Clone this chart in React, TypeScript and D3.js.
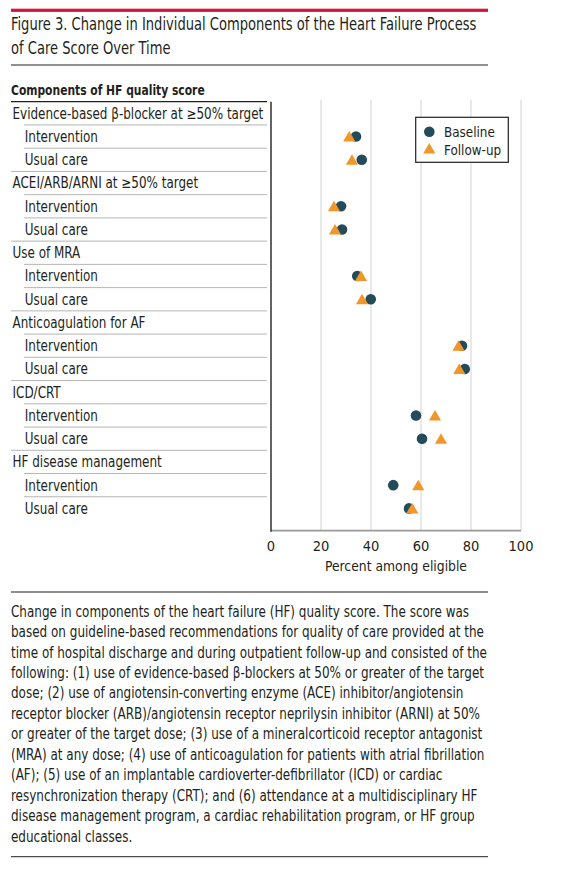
import React, { useLayoutEffect, useRef, useState } from "react";
import * as d3 from "d3";

const categories = [
  "Evidence-based β-blocker at ≥50% target",
  "ACEI/ARB/ARNI at ≥50% target",
  "Use of MRA",
  "Anticoagulation for AF",
  "ICD/CRT",
  "HF disease management",
];
const groups = ["Intervention", "Usual care"];
// [category][group]
const baseline = [
  [34, 36.3],
  [28, 28.4],
  [34.5, 39.9],
  [76.4, 77.5],
  [58, 60.4],
  [48.9, 55.2],
];
const followUp = [
  [31.3, 32.4],
  [25.2, 25.6],
  [36, 36.4],
  [75, 75.3],
  [65.6, 68],
  [58.9, 56.5],
];
const xTicks = [0, 20, 40, 60, 80, 100];
const seriesNames = ["Baseline", "Follow-up"];
const headerText = "Components of HF quality score";
const axisTitle = "Percent among eligible";
const titleLines = [
  "Figure 3. Change in Individual Components of the Heart Failure Process",
  "of Care Score Over Time",
];
const captionLines = [
  "Change in components of the heart failure (HF) quality score. The score was",
  "based on guideline-based recommendations for quality of care provided at the",
  "time of hospital discharge and during outpatient follow-up and consisted of the",
  "following: (1) use of evidence-based β-blockers at 50% or greater of the target",
  "dose; (2) use of angiotensin-converting enzyme (ACE) inhibitor/angiotensin",
  "receptor blocker (ARB)/angiotensin receptor neprilysin inhibitor (ARNI) at 50%",
  "or greater of the target dose; (3) use of a mineralcorticoid receptor antagonist",
  "(MRA) at any dose; (4) use of anticoagulation for patients with atrial fibrillation",
  "(AF); (5) use of an implantable cardioverter-defibrillator (ICD) or cardiac",
  "resynchronization therapy (CRT); and (6) attendance at a multidisciplinary HF",
  "disease management program, a cardiac rehabilitation program, or HF group",
  "educational classes.",
];

const FONT = "'Liberation Sans Narrow', 'DejaVu Sans Condensed', 'Roboto Condensed', sans-serif";
const TEXT = "#231f20";
const BASE_C = "#244b5a";
const FOLLOW_C = "#f0962a";

type Row = { label: string; kind: "cat" | "sub"; c: number; g: number };

function sq(x0: number, s: number) {
  return `translate(${x0},0) scale(${s},1) translate(${-x0},0)`;
}

export default function App() {
  const W = 571, H = 872;
  const left = 11, right = 488;
  const x = d3.scaleLinear().domain([0, 100]).range([271, 521]);

  const titleRef = useRef<SVGTextElement>(null);
  const capRef = useRef<SVGTextElement>(null);
  const labRef = useRef<SVGTextElement>(null);
  const hdrRef = useRef<SVGTextElement>(null);
  const [s, setS] = useState({ title: 1, cap: 1, lab: 1, hdr: 1 });

  useLayoutEffect(() => {
    const m = (r: React.RefObject<SVGTextElement>, target: number) =>
      r.current ? target / r.current.getComputedTextLength() : 1;
    setS({
      title: m(titleRef, 466),
      cap: m(capRef, 473.3),
      lab: m(labRef, 251),
      hdr: m(hdrRef, 194),
    });
  }, []);

  const rows: Row[] = [];
  categories.forEach((cat, c) => {
    rows.push({ label: cat, kind: "cat", c, g: -1 });
    groups.forEach((gname, g) => rows.push({ label: gname, kind: "sub", c, g }));
  });
  const tableTop = 101.7;
  const y = d3
    .scaleBand<number>()
    .domain(d3.range(rows.length))
    .range([tableTop, tableTop + 23.24 * rows.length]);
  const axisY = 530.7;

  const tri = d3.symbol().type(d3.symbolTriangle).size(64)()!;
  const circ = d3.symbol().type(d3.symbolCircle).size(88)()!;

  return (
    <svg width={W} height={H} style={{ position: "absolute", left: 0, top: 0, background: "#fff" }} fontFamily={FONT}>
      <rect x={0} y={0} width={W} height={H} fill="#fff" />
      {/* top red bar */}
      <rect x={left} y={8.7} width={right - left} height={3.2} fill="#d2163b" />
      <g transform={sq(left, s.title)}>
        {titleLines.map((t, i) => (
          <text key={i} ref={i === 0 ? titleRef : undefined} x={left} y={30 + i * 24.5} fontSize={17.5} fill={TEXT}>
            {t}
          </text>
        ))}
      </g>
      <line x1={left} x2={right} y1={65} y2={65} stroke={TEXT} strokeWidth={1} />

      {/* table header */}
      <g transform={sq(left, s.hdr)}>
        <text ref={hdrRef} x={left} y={95} fontSize={14.5} fontWeight="bold" fill={TEXT}>
          {headerText}
        </text>
      </g>

      {/* gridlines */}
      {xTicks
        .filter((t) => t > 0)
        .map((t) => (
          <line key={t} x1={x(t)} x2={x(t)} y1={tableTop - 2} y2={axisY} stroke="#d3d3d3" strokeWidth={1} />
        ))}

      {/* row separators */}
      {rows.map((r, i) => {
        const yb = y(i)! + y.bandwidth();
        if (i === rows.length - 1) return null;
        const next = rows[i + 1];
        const x1 = next.kind === "cat" ? left : 24;
        return <line key={"s" + i} x1={x1} x2={267} y1={yb} y2={yb} stroke="#b5b5b5" strokeWidth={1} />;
      })}
      <line x1={left} x2={267} y1={tableTop} y2={tableTop} stroke={TEXT} strokeWidth={1.2} />

      {/* row labels */}
      <g transform={sq(left, s.lab)}>
        {rows.map((r, i) => (
          <text
            key={"l" + i}
            ref={i === 0 ? labRef : undefined}
            x={r.kind === "cat" ? 12.7 : 12.7 + 12.3 / s.lab}
            y={y(i)! + y.bandwidth() / 2}
            dy="0.36em"
            fontSize={15}
            fill={TEXT}
          >
            {r.label}
          </text>
        ))}
      </g>

      {/* axes */}
      <line x1={x(0)} x2={x(100)} y1={axisY} y2={axisY} stroke="#9a9a9a" strokeWidth={1.8} />
      <line x1={x(0)} x2={x(0)} y1={tableTop} y2={axisY + 1} stroke={TEXT} strokeWidth={1.4} />
      {xTicks.map((t) => (
        <text key={"t" + t} x={x(t)} y={551} textAnchor="middle" fontSize={14.5} fill={TEXT}>
          {t}
        </text>
      ))}
      <g transform={sq(396, 0.95)}>
        <text x={(x(0) + x(100)) / 2} y={570.7} textAnchor="middle" fontSize={14.5} fill={TEXT}>
          {axisTitle}
        </text>
      </g>

      {/* points */}
      {rows.map((r, i) => {
        if (r.kind !== "sub") return null;
        const cy = y(i)! + y.bandwidth() / 2;
        return (
          <g key={"p" + i}>
            <path d={circ} transform={`translate(${x(baseline[r.c][r.g])},${cy})`} fill={BASE_C} />
            <path d={tri} transform={`translate(${x(followUp[r.c][r.g])},${cy + 1.5})`} fill={FOLLOW_C} />
          </g>
        );
      })}

      {/* legend */}
      <rect x={415.7} y={117.3} width={92.6} height={45} fill="#fff" stroke={TEXT} strokeWidth={1.2} />
      <path d={circ} transform={`translate(429.3,131.7)`} fill={BASE_C} />
      <path d={tri} transform={`translate(429.3,150)`} fill={FOLLOW_C} />
      <g transform={sq(444, 0.92)}>
        {seriesNames.map((n, i) => (
          <text key={n} x={444} y={131.7 + i * 17.6} dy="0.36em" fontSize={14.5} fill={TEXT}>
            {n}
          </text>
        ))}
      </g>

      {/* caption */}
      <line x1={left} x2={right} y1={592} y2={592} stroke={TEXT} strokeWidth={1} />
      <g transform={sq(left, s.cap)}>
        {captionLines.map((t, i) => (
          <text key={"c" + i} ref={i === 3 ? capRef : undefined} x={left} y={616.7 + i * 20.45} fontSize={15.5} fill={TEXT}>
            {t}
          </text>
        ))}
      </g>
      <line x1={left} x2={right} y1={856.7} y2={856.7} stroke={TEXT} strokeWidth={1} />
    </svg>
  );
}
